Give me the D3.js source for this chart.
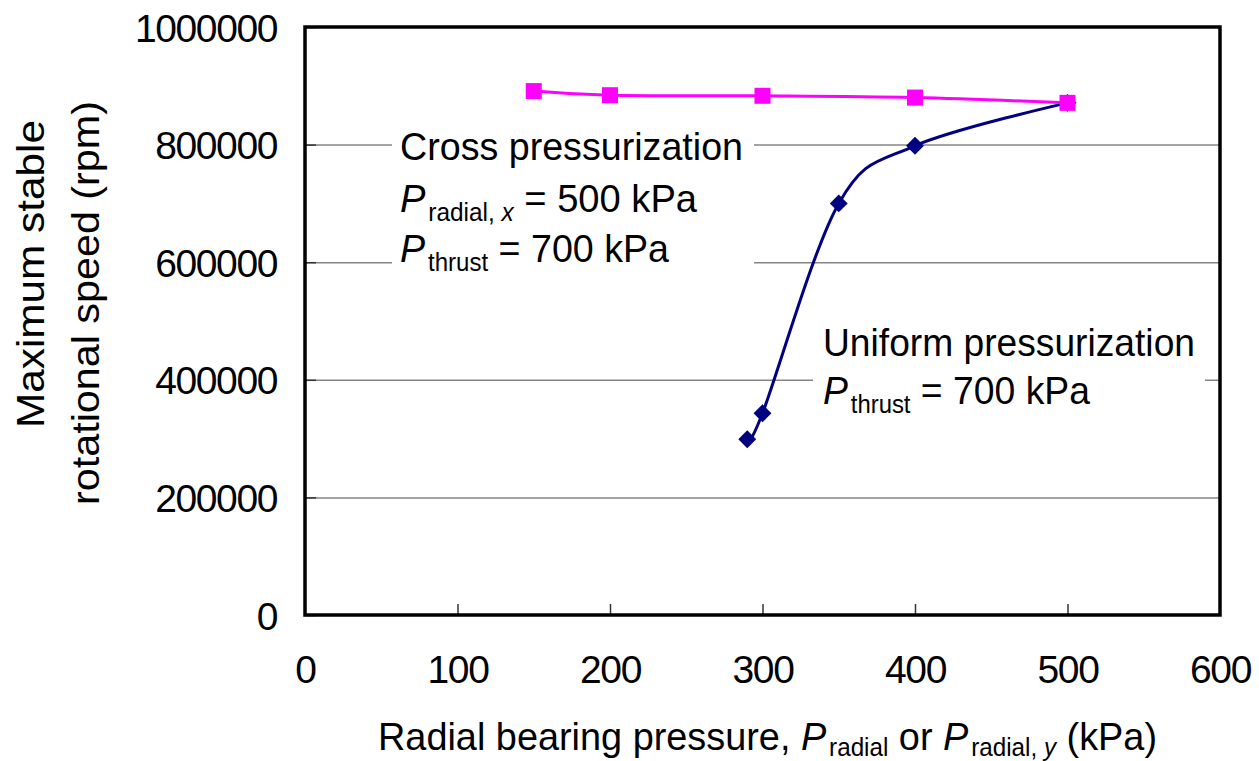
<!DOCTYPE html>
<html>
<head>
<meta charset="utf-8">
<script src="https://cdn.jsdelivr.net/npm/d3@7"></script>
<style>
  body { margin: 0; background: #fff; }
  svg { display: block; font-family: 'Liberation Sans', Arial, sans-serif; }
</style>
</head>
<body>
<div id="chart"></div>
<script>
// data
const xTicks = [0, 100, 200, 300, 400, 500, 600]
const yTicks = [0, 200000, 400000, 600000, 800000, 1000000]

const crossX = [150, 200, 300, 400, 500]
const crossY = [891000, 884000, 883000, 880000, 871000]

const uniformX = [290, 300, 350, 400, 500]
const uniformY = [299000, 343000, 700000, 798000, 871000]

const WIDTH = 1259
const HEIGHT = 761
const PLOT = { left: 305, right: 1220, top: 27, bottom: 615 }
const FONT = 39
const GRID_COLOR = '#858585'
const CROSS_COLOR = '#ff00ff'
const UNIFORM_COLOR = '#000080'

const svg = d3.select('#chart')
  .append('svg')
  .attr('width', WIDTH)
  .attr('height', HEIGHT)

svg.append('rect')
  .attr('width', WIDTH)
  .attr('height', HEIGHT)
  .attr('fill', '#fff')

const x = d3.scaleLinear().domain([0, 600]).range([PLOT.left, PLOT.right])
const y = d3.scaleLinear().domain([0, 1000000]).range([PLOT.bottom, PLOT.top])

// Y grid
svg.append('g')
  .attr('transform', 'translate(' + PLOT.left + ',0)')
  .call(d3.axisRight(y).tickValues(yTicks.slice(1, -1)).tickSize(PLOT.right - PLOT.left).tickFormat(''))
  .call(g => g.select('.domain').remove())
  .call(g => g.selectAll('line').attr('stroke', GRID_COLOR).attr('stroke-width', 1.5))

// Y tick marks (inside)
svg.append('g')
  .attr('transform', 'translate(' + PLOT.left + ',0)')
  .call(d3.axisRight(y).tickValues(yTicks).tickSize(11).tickFormat(''))
  .call(g => g.select('.domain').remove())
  .call(g => g.selectAll('line').attr('stroke', '#333').attr('stroke-width', 1.5))

// Y labels
svg.append('g')
  .attr('transform', 'translate(' + PLOT.left + ',0)')
  .call(d3.axisLeft(y).tickValues(yTicks).tickSize(0).tickPadding(28).tickFormat(d3.format('d')))
  .call(g => g.select('.domain').remove())
  .call(g => g.selectAll('text')
    .attr('font-family', null)
    .attr('font-size', FONT)
    .attr('fill', '#000')
    .attr('dy', '0.36em')
    .attr('letter-spacing', -1.4))

// X tick marks (inside)
svg.append('g')
  .attr('transform', 'translate(0,' + PLOT.bottom + ')')
  .call(d3.axisTop(x).tickValues(xTicks.slice(1, -1)).tickSize(11).tickFormat(''))
  .call(g => g.select('.domain').remove())
  .call(g => g.selectAll('line').attr('stroke', '#333').attr('stroke-width', 1.5))

// X labels
svg.append('g')
  .attr('transform', 'translate(0,' + PLOT.bottom + ')')
  .call(d3.axisBottom(x).tickValues(xTicks).tickSize(0).tickPadding(54).tickFormat(d3.format('d')))
  .call(g => g.select('.domain').remove())
  .call(g => g.selectAll('text')
    .attr('font-family', null)
    .attr('font-size', FONT)
    .attr('fill', '#000')
    .attr('dy', '0.36em')
    .attr('letter-spacing', -1.4))

// rich text helper: segments of { t, it, sub }, stretched to a measured width
function richText (parent, px, py, segs, width, drop) {
  const text = parent.append('text')
    .attr('x', px)
    .attr('y', py)
    .attr('font-size', FONT)
    .attr('fill', '#000')
    .attr('textLength', width)
    .attr('lengthAdjust', 'spacingAndGlyphs')
  let shift = 0
  let prevItalic = false
  segs.forEach(s => {
    const target = s.sub ? drop : 0
    text.append('tspan')
      .attr('dy', target - shift)
      .attr('dx', s.sub && prevItalic && !s.it ? 3 : 0)
      .attr('font-size', s.sub ? FONT * 0.64 : FONT)
      .attr('font-style', s.it ? 'italic' : 'normal')
      .text(s.t)
    shift = target
    prevItalic = !!s.it
  })
  return text
}

// annotation boxes hide the grid
const notes = svg.append('g')
notes.append('rect').attr('x', 392).attr('y', 124).attr('width', 362).attr('height', 152).attr('fill', '#fff')
notes.append('rect').attr('x', 813).attr('y', 320).attr('width', 392).attr('height', 100).attr('fill', '#fff')

richText(notes, 400, 160, [{ t: 'Cross pressurization' }], 343, 9)
richText(notes, 400, 212, [
  { t: 'P', it: true }, { t: 'radial, ', sub: true }, { t: 'x', it: true, sub: true }, { t: ' = 500 kPa' }
], 297, 9)
richText(notes, 400, 262, [
  { t: 'P', it: true }, { t: 'thrust', sub: true }, { t: ' = 700 kPa' }
], 269, 9)
richText(notes, 823, 356, [{ t: 'Uniform pressurization' }], 372, 9)
richText(notes, 823, 404, [
  { t: 'P', it: true }, { t: 'thrust', sub: true }, { t: ' = 700 kPa' }
], 267, 9)

// axis titles
richText(svg, 378, 750, [
  { t: 'Radial bearing pressure, ' }, { t: 'P', it: true }, { t: 'radial', sub: true },
  { t: ' or ' }, { t: 'P', it: true }, { t: 'radial, ', sub: true }, { t: 'y', it: true, sub: true },
  { t: ' (kPa)' }
], 779, 6)

svg.append('text')
  .attr('transform', 'translate(44,274) rotate(-90)')
  .attr('text-anchor', 'middle')
  .attr('font-size', FONT)
  .attr('textLength', 308)
  .attr('lengthAdjust', 'spacingAndGlyphs')
  .text('Maximum stable')
svg.append('text')
  .attr('transform', 'translate(99,303) rotate(-90)')
  .attr('text-anchor', 'middle')
  .attr('font-size', FONT)
  .attr('textLength', 404)
  .attr('lengthAdjust', 'spacingAndGlyphs')
  .text('rotational speed (rpm)')

// series
const crossData = crossX.map((v, i) => [v, crossY[i]])
const uniformData = uniformX.map((v, i) => [v, uniformY[i]])

const line = d3.line()
  .x(d => x(d[0]))
  .y(d => y(d[1]))
  .curve(d3.curveCardinal.tension(0))

svg.append('path')
  .datum(uniformData)
  .attr('fill', 'none')
  .attr('stroke', UNIFORM_COLOR)
  .attr('stroke-width', 3)
  .attr('d', line)

svg.append('g')
  .selectAll('path')
  .data(uniformData)
  .join('path')
  .attr('d', d3.symbol(d3.symbolSquare, 160))
  .attr('transform', d => 'translate(' + x(d[0]) + ',' + y(d[1]) + ') rotate(45)')
  .attr('fill', UNIFORM_COLOR)

svg.append('path')
  .datum(crossData)
  .attr('fill', 'none')
  .attr('stroke', CROSS_COLOR)
  .attr('stroke-width', 3)
  .attr('d', line)

svg.append('g')
  .selectAll('rect')
  .data(crossData)
  .join('rect')
  .attr('x', d => x(d[0]) - 8)
  .attr('y', d => y(d[1]) - 8)
  .attr('width', 16)
  .attr('height', 16)
  .attr('fill', CROSS_COLOR)

// plot frame
svg.append('rect')
  .attr('x', PLOT.left)
  .attr('y', PLOT.top)
  .attr('width', PLOT.right - PLOT.left)
  .attr('height', PLOT.bottom - PLOT.top)
  .attr('fill', 'none')
  .attr('stroke', '#000')
  .attr('stroke-width', 3.5)
</script>
</body>
</html>
